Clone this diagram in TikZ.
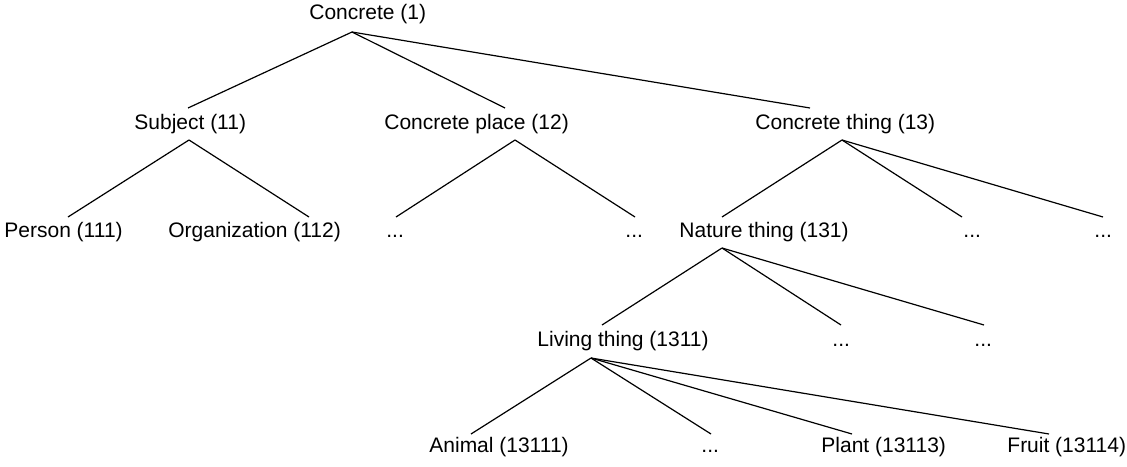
\documentclass[tikz,border=0pt]{standalone}
\usepackage{fontspec}
\setmainfont{Liberation Sans}
\begin{document}
\begin{tikzpicture}[x=0.5pt,y=-0.5pt]
 \tikzset{term/.style={anchor=mid west, inner sep=0pt, font=\fontsize{10.5}{12}\selectfont}}
 \tikzset{link/.style={line width=0.6pt}}
  \useasboundingbox (0,0) rectangle (1127,466);
  \node[term] (C1) at (309,14) {Concrete (1)};
  \node[term] (C11) at (134,124) {Subject (11)};
  \node[term] (C12) at (384,124) {Concrete place (12)};
  \node[term] (C13) at (755,124) {Concrete thing (13)};
  \node[term] (C111) at (4,232) {Person (111)};
  \node[term] (C112) at (168,232) {Organization (112)};
  \node[term] (C12a) at (386,232) {...};
  \node[term] (C12b) at (625,232) {...};
  \node[term] (C131) at (679,232) {Nature thing (131)};
  \node[term] (C13b) at (963,232) {...};
  \node[term] (C13c) at (1094,232) {...};
  \node[term] (C1311) at (537,341) {Living thing (1311)};
  \node[term] (C131b) at (832,341) {...};
  \node[term] (C131c) at (974,341) {...};
  \node[term] (C13111) at (429,447) {Animal (13111)};
  \node[term] (C1311b) at (701,447) {...};
  \node[term] (C13113) at (821,447) {Plant (13113)};
  \node[term] (C13114) at (1007,447) {Fruit (13114)};
  \coordinate (C1-out) at (352,32);
  \coordinate (C11-in) at (188,108);
  \coordinate (C11-out) at (189,140);
  \coordinate (C12-in) at (505,108);
  \coordinate (C12-out) at (515,140);
  \coordinate (C13-in) at (810,108);
  \coordinate (C13-out) at (842,140);
  \coordinate (C111-in) at (68,217);
  \coordinate (C112-in) at (309,217);
  \coordinate (C12a-in) at (396,217);
  \coordinate (C12b-in) at (635,217);
  \coordinate (C131-in) at (722,217);
  \coordinate (C131-out) at (722,248);
  \coordinate (C13b-in) at (962,217);
  \coordinate (C13c-in) at (1103,217);
  \coordinate (C1311-in) at (602,325);
  \coordinate (C1311-out) at (591,358);
  \coordinate (C131b-in) at (841,325);
  \coordinate (C131c-in) at (984,325);
  \coordinate (C13111-in) at (471,434);
  \coordinate (C1311b-in) at (711,434);
  \coordinate (C13113-in) at (852,434);
  \coordinate (C13114-in) at (1049,434);
  \draw[link] (C1-out) -- (C11-in);
  \draw[link] (C1-out) -- (C12-in);
  \draw[link] (C1-out) -- (C13-in);
  \draw[link] (C11-out) -- (C111-in);
  \draw[link] (C11-out) -- (C112-in);
  \draw[link] (C12-out) -- (C12a-in);
  \draw[link] (C12-out) -- (C12b-in);
  \draw[link] (C13-out) -- (C131-in);
  \draw[link] (C13-out) -- (C13b-in);
  \draw[link] (C13-out) -- (C13c-in);
  \draw[link] (C131-out) -- (C1311-in);
  \draw[link] (C131-out) -- (C131b-in);
  \draw[link] (C131-out) -- (C131c-in);
  \draw[link] (C1311-out) -- (C13111-in);
  \draw[link] (C1311-out) -- (C1311b-in);
  \draw[link] (C1311-out) -- (C13113-in);
  \draw[link] (C1311-out) -- (C13114-in);
\end{tikzpicture}
\end{document}
